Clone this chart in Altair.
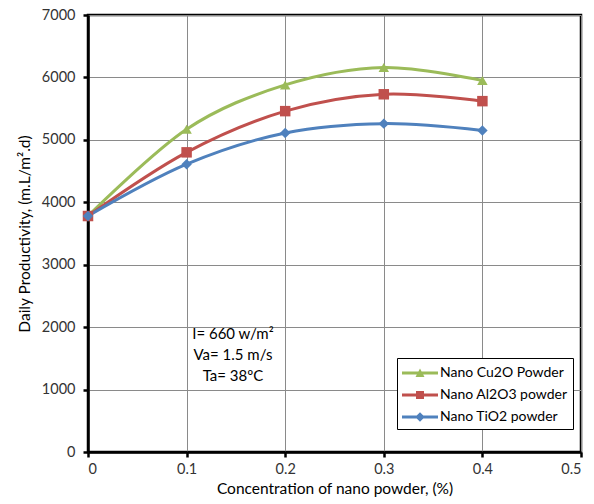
import altair as alt
import pandas as pd

conc = [0, 0.1, 0.2, 0.3, 0.4]
cu2o = [3780, 5170, 5880, 6160, 5950]
al2o3 = [3780, 4800, 5460, 5730, 5620]
tio2 = [3780, 4610, 5110, 5260, 5150]

series_names = ["Nano Cu2O Powder", "Nano Al2O3 powder", "Nano TiO2 powder"]
colors = ["#9BBB59", "#C0504D", "#4F81BD"]
shapes = ["triangle-up", "square", "diamond"]
LINE = "M-1,-0.14H2.6V0.14H-1Z "
legend_paths = [
    LINE + "M0.35,0.4L0.8,-0.45L1.25,0.4Z",
    LINE + "M0.4,-0.4H1.2V0.4H0.4Z",
    LINE + "M0.8,-0.48L1.28,0L0.8,0.48L0.32,0Z",
]
annotation = ["I= 660 w/m\u00b2", "Va= 1.5 m/s", "Ta= 38\u00baC"]

rows = []
for name, vals in zip(series_names, [cu2o, al2o3, tio2]):
    for c, v in zip(conc, vals):
        rows.append({"conc": c, "prod": v, "series": name, "label": name})
df = pd.DataFrame(rows)

FONT = "Lato"

xenc = alt.X(
    "conc:Q",
    scale=alt.Scale(domain=[0, 0.5], nice=False),
    axis=alt.Axis(
        values=[0, 0.1, 0.2, 0.3, 0.4, 0.5],
        labelExpr="datum.value == 0 ? '0' : format(datum.value, '.1f')",
        title="Concentration of nano powder, (%)",
    ),
)
yenc = alt.Y(
    "prod:Q",
    scale=alt.Scale(domain=[0, 7000], nice=False),
    axis=alt.Axis(
        values=[0, 1000, 2000, 3000, 4000, 5000, 6000, 7000],
        format="d",
        title="Daily Productivity, (m.L/m\u00b2.d)",
    ),
)
color_vis = alt.Color(
    "series:N",
    scale=alt.Scale(domain=series_names, range=colors),
    legend=None,
)

base = alt.Chart(df)

lines = base.mark_line(strokeWidth=3, interpolate="cardinal").encode(
    x=xenc, y=yenc, color=color_vis, detail="series:N"
)
points = base.mark_point(filled=True, size=110, opacity=1).encode(
    x=xenc,
    y=yenc,
    color=color_vis,
    shape=alt.Shape("series:N", scale=alt.Scale(domain=series_names, range=shapes), legend=None),
)

legend_layer = base.transform_filter("datum.conc < -1").mark_point(filled=True, opacity=1).encode(
    x=xenc,
    y=yenc,
    color=alt.Color(
        "label:N",
        scale=alt.Scale(domain=series_names, range=colors),
        legend=alt.Legend(
            title=None,
            orient="none",
            legendX=309,
            legendY=343,
            fillColor="white",
            strokeColor="black",
            padding=5,
            symbolSize=400,
            symbolStrokeWidth=0,
            labelFontSize=14,
            labelFont=FONT,
            labelColor="#000000",
            labelOffset=18,
            rowPadding=5,
            labelLimit=300,
        ),
    ),
    shape=alt.Shape(
        "label:N",
        scale=alt.Scale(domain=series_names, range=legend_paths),
        legend=alt.Legend(
            title=None,
            orient="none",
            legendX=309,
            legendY=343,
        ),
    ),
)

text_df = pd.DataFrame({"t": [annotation]})
text = alt.Chart(text_df).mark_text(
    font=FONT, fontSize=15, align="center", baseline="top", lineHeight=21, color="#000000"
).encode(
    x=alt.datum(0.147),
    y=alt.datum(2010),
    text="t",
)

chart = (
    alt.layer(lines, points, legend_layer, text)
    .resolve_scale(color="independent", shape="independent")
    .properties(
        width=493,
        height=437,
        autosize=alt.AutoSizeParams(type="none"),
        padding={"left": 88, "top": 15, "right": 13, "bottom": 52},
    )
    .configure_view(stroke="black", strokeWidth=2.5)
    .configure_axis(
        labelFont=FONT,
        titleFont=FONT,
        labelFontSize=14.5,
        titleFontSize=15.5,
        labelColor="#333333",
        titleColor="#000000",
        titleFontWeight="normal",
        gridColor="#8a8a8a",
        gridWidth=1,
        domainColor="black",
        domainWidth=2.5,
        tickColor="black",
        tickWidth=2.5,
        tickSize=5,
    )
    .configure_axisY(labelPadding=8, titlePadding=9)
    .configure_axisX(labelPadding=5, titlePadding=6)
)

chart.save("out.html", embed_options={"renderer": "svg", "actions": False})
